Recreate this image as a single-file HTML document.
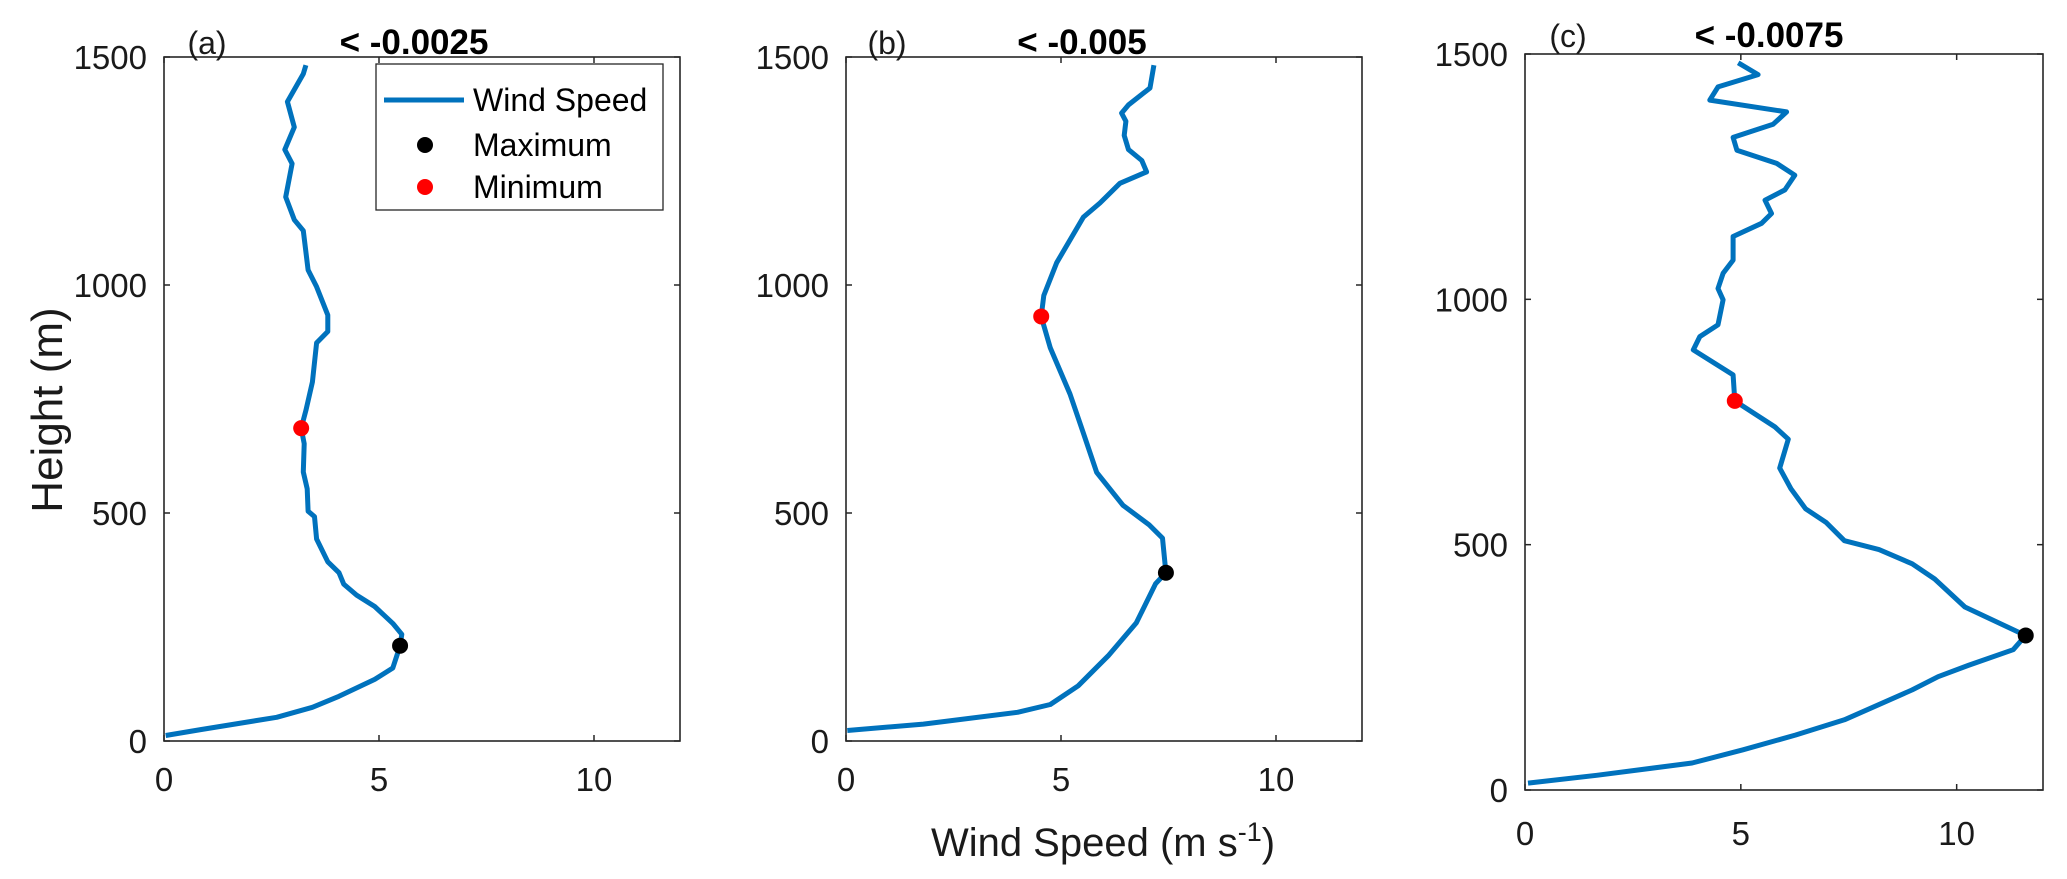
<!DOCTYPE html>
<html><head><meta charset="utf-8"><style>
html,body{margin:0;padding:0;background:#fff;}
svg{display:block;font-family:"Liberation Sans",Arial,sans-serif;}
</style></head><body>
<svg id="chart" width="2067" height="879" viewBox="0 0 2067 879"></svg>
<script>
// ---- data ----
const aSpeed=[0.04,0.85,2.62,3.45,4.07,4.9,5.32,5.49,5.53,5.32,4.9,4.48,4.18,4.07,3.81,3.55,3.5,3.35,3.33,3.24,3.26,3.19,3.3,3.45,3.55,3.81,3.81,3.55,3.35,3.24,3.03,2.83,2.98,2.81,3.03,2.87,3.24,3.3];
const aHeight=[12,25,52,74,98,135,160,209,234,258,295,320,344,369,393,443,492,504,553,590,652,686,725,787,873,898,934,996,1033,1119,1143,1193,1266,1297,1346,1402,1463,1482];
const aMax=[5.49,209]; const aMin=[3.19,686];
const bSpeed=[0.03,1.8,3.99,4.75,5.4,6.1,6.75,7.2,7.44,7.36,7.05,6.44,5.83,5.52,5.21,4.75,4.54,4.6,4.9,5.52,5.91,6.37,6.99,6.88,6.57,6.47,6.51,6.41,6.57,7.07,7.16];
const bHeight=[23,37,63,80,121,187,259,345,369,445,474,517,589,675,761,862,931,977,1049,1149,1180,1223,1248,1273,1297,1328,1359,1377,1395,1432,1482];
const bMax=[7.44,369]; const bMin=[4.54,931];
const cSpeed=[0.07,1.66,3.87,5.05,6.27,7.4,8.97,9.57,10.27,11.31,11.6,11.4,10.19,9.49,8.97,8.2,7.4,6.98,6.5,6.16,5.9,6.1,5.79,4.86,4.82,3.9,4.05,4.47,4.59,4.47,4.59,4.82,4.82,5.48,5.71,5.56,6.02,6.25,5.83,4.91,4.82,5.75,6.06,4.28,4.47,5.4,4.94];
const cHeight=[14,30,55,82,112,143,204,231,254,286,315,323,373,430,461,490,508,545,573,614,656,715,740,793,846,897,924,948,999,1022,1053,1080,1128,1155,1175,1202,1223,1253,1277,1304,1330,1357,1382,1406,1433,1458,1482];
const cMax=[11.6,315]; const cMin=[4.86,793];
const xTicks=[0,5,10]; const yTicks=[0,500,1000,1500];
const titles=["< -0.0025","< -0.005","< -0.0075"]; const tags=["(a)","(b)","(c)"];

const NS="http://www.w3.org/2000/svg";
const svg=document.getElementById('chart');
function mk(tag,attrs,parent,text){const e=document.createElementNS(NS,tag);for(const k in attrs)e.setAttribute(k,attrs[k]);if(text!==undefined)e.textContent=text;(parent||svg).appendChild(e);return e;}

const panels=[
 {L:164,R:680,T:57,B:741,s:aSpeed,h:aHeight,mx:aMax,mn:aMin,tagX:207,tagY:54,titX:414,titY:54,xlY:791},
 {L:846,R:1362,T:57,B:741,s:bSpeed,h:bHeight,mx:bMax,mn:bMin,tagX:887,tagY:54,titX:1082,titY:54,xlY:791},
 {L:1525,R:2043,T:54,B:790,s:cSpeed,h:cHeight,mx:cMax,mn:cMin,tagX:1568,tagY:47,titX:1769,titY:47,xlY:845}
];
panels.forEach((p,i)=>{
 const X=v=>p.L+(v/12)*(p.R-p.L);
 const Y=v=>p.B-(v/1500)*(p.B-p.T);
 const g=mk('g',{});
 
 
 const box=mk('rect',{x:p.L,y:p.T,width:p.R-p.L,height:p.B-p.T,fill:'none',stroke:'#262626','stroke-width':1.6},g);
 
 
 xTicks.forEach(t=>{
  mk('line',{x1:X(t),x2:X(t),y1:p.B,y2:p.B-6,stroke:'#262626','stroke-width':1.5},g);
  mk('line',{x1:X(t),x2:X(t),y1:p.T,y2:p.T+6,stroke:'#262626','stroke-width':1.5},g);
  const tl=mk('text',{x:X(t),y:p.xlY,'text-anchor':'middle','font-size':33,fill:'#1a1a1a'},g,String(t));
  
  
 });
 yTicks.forEach(t=>{
  mk('line',{x1:p.L,x2:p.L+6,y1:Y(t),y2:Y(t),stroke:'#262626','stroke-width':1.5},g);
  mk('line',{x1:p.R,x2:p.R-6,y1:Y(t),y2:Y(t),stroke:'#262626','stroke-width':1.5},g);
  const tl=mk('text',{x:p.L-17,y:Y(t)+12,'text-anchor':'end','font-size':33,fill:'#1a1a1a'},g,String(t));
  
  
 });
 const d=p.s.map((v,k)=>(k?'L':'M')+X(v).toFixed(1)+','+Y(p.h[k]).toFixed(1)).join('');
 const line=mk('path',{d:d,fill:'none',stroke:'#0072BD','stroke-width':5,'stroke-linejoin':'round'},g);
 
 
 const mxp=mk('circle',{cx:X(p.mx[0]),cy:Y(p.mx[1]),r:8,fill:'#000'},g);
 
 
 const mnp=mk('circle',{cx:X(p.mn[0]),cy:Y(p.mn[1]),r:8,fill:'#f00'},g);
 
 
 const tg=mk('text',{x:p.tagX,y:p.tagY,'text-anchor':'middle','font-size':32,fill:'#1a1a1a'},g,tags[i]);
 
 
 const tt=mk('text',{x:p.titX,y:p.titY,'text-anchor':'middle','font-size':35,'font-weight':'bold',fill:'#000'},g,titles[i]);
 
 
});
// legend
const lg=mk('g',{});


mk('rect',{x:376,y:64,width:287,height:146,fill:'#fff',stroke:'#262626','stroke-width':1.3},lg);
mk('line',{x1:384,x2:464,y1:100,y2:100,stroke:'#0072BD','stroke-width':5},lg);
mk('circle',{cx:425,cy:145,r:8,fill:'#000'},lg);
mk('circle',{cx:425,cy:187,r:8,fill:'#f00'},lg);
const le=['Wind Speed','Maximum','Minimum'];const ly=[100,145,187];
le.forEach((t,k)=>{const e=mk('text',{x:473,y:ly[k]+11,'font-size':32,fill:'#000'},lg,t);
 
 });
// axis titles
const xt=mk('text',{x:1103,y:856,'text-anchor':'middle','font-size':40,fill:'#1a1a1a'});
xt.innerHTML='Wind Speed (m s<tspan dy="-15" font-size="27">-1</tspan><tspan dy="15">)</tspan>';


const yt=mk('text',{x:0,y:0,'text-anchor':'middle','font-size':44,fill:'#1a1a1a',transform:'translate(62,410) rotate(-90)'},svg,'Height (m)');


</script>
</body></html>
